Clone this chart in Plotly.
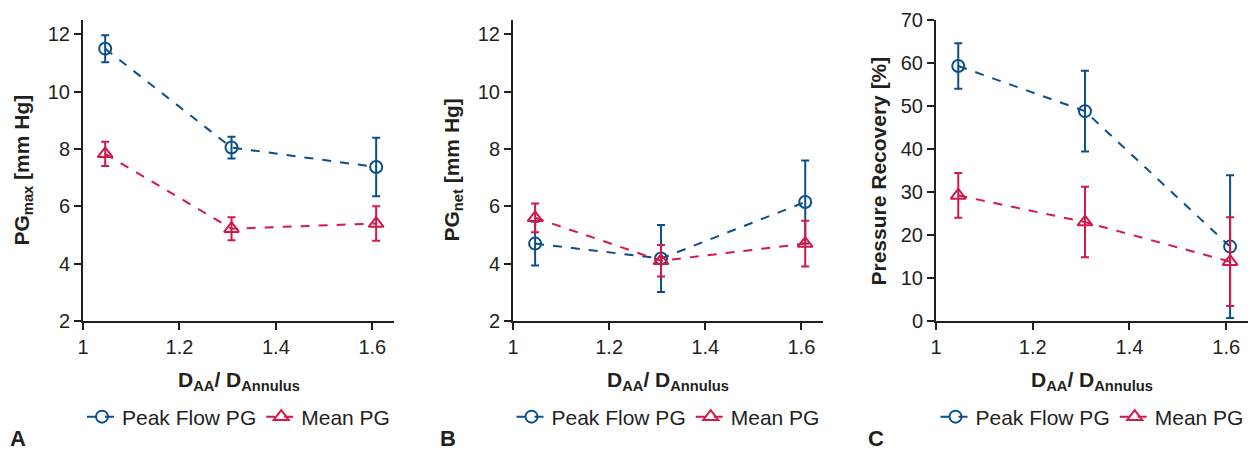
import plotly.graph_objects as go

x_vals = [1.046, 1.308, 1.608]

# Panel A: PGmax
a_peak = [11.5, 8.05, 7.37]
a_peak_err = [0.47, 0.38, 1.02]
a_mean = [7.83, 5.22, 5.4]
a_mean_err = [0.42, 0.4, 0.6]

# Panel B: PGnet
b_peak = [4.7, 4.18, 6.15]
b_peak_err = [0.76, 1.17, 1.45]
b_mean = [5.6, 4.1, 4.7]
b_mean_err = [0.5, 0.55, 0.8]

# Panel C: Pressure recovery
c_peak = [59.3, 48.8, 17.3]
c_peak_err = [5.3, 9.4, 16.6]
c_mean = [29.2, 23.0, 13.8]
c_mean_err = [5.2, 8.2, 10.3]

y_titles = ["<b>PG<sub>max</sub> [mm Hg]</b>", "<b>PG<sub>net</sub> [mm Hg]</b>", "<b>Pressure Recovery [%]</b>"]
panel_labels = ["A", "B", "C"]
x_tick_vals = [1, 1.2, 1.4, 1.6]
x_tick_text = ["1", "1.2", "1.4", "1.6"]

BLUE = "#0d4f8b"
RED = "#d3194a"
TXT = "#231f20"
W, H = 1259, 452
FONT = "Liberation Sans, Arial, Helvetica, sans-serif"

# panel pixel layout
xdom_px = [(83, 394), (513, 823), (936, 1248)]
ytop_px, ybot_px = 20, 321
ytitle_x_px = [22, 452, 878]
letter_x_px = [18, 448, 876]

fig = go.Figure()

data = [
    (a_peak, a_peak_err, a_mean, a_mean_err),
    (b_peak, b_peak_err, b_mean, b_mean_err),
    (c_peak, c_peak_err, c_mean, c_mean_err),
]
yranges = [[2, 12.5], [2, 12.5], [0, 70]]
ydticks = [[2, 4, 6, 8, 10, 12], [2, 4, 6, 8, 10, 12], [0, 10, 20, 30, 40, 50, 60, 70]]

annotations = []
for i, (pk, pke, mn, mne) in enumerate(data):
    n = "" if i == 0 else str(i + 1)
    xa, ya = "x" + n, "y" + n
    leg = "legend" if i == 0 else "legend" + str(i + 1)
    fig.add_trace(go.Scatter(
        x=x_vals, y=pk, xaxis=xa, yaxis=ya, mode="lines+markers", name="Peak Flow PG",
        line=dict(color=BLUE, width=2, dash="dash"),
        marker=dict(symbol="circle-open", size=12, color=BLUE, line=dict(width=2, color=BLUE)),
        error_y=dict(type="data", array=pke, color=BLUE, thickness=2, width=4),
        legend=leg, cliponaxis=False,
    ))
    fig.add_trace(go.Scatter(
        x=x_vals, y=mn, xaxis=xa, yaxis=ya, mode="lines+markers", name="Mean PG",
        line=dict(color=RED, width=2, dash="dash"),
        marker=dict(symbol="triangle-up-open", size=13, color=RED, line=dict(width=2, color=RED)),
        error_y=dict(type="data", array=mne, color=RED, thickness=2, width=4),
        legend=leg, cliponaxis=False,
    ))
    x0, x1 = xdom_px[i]
    dom = [x0 / W, x1 / W]
    axcommon = dict(showline=True, linecolor=TXT, linewidth=2, ticks="outside", ticklen=7,
                    tickwidth=1.5, tickcolor=TXT, showgrid=False, zeroline=False, automargin=False,
                    tickfont=dict(family=FONT, size=20, color=TXT))
    fig.update_layout(**{
        "xaxis" + n: dict(domain=dom, range=[1, 1.645], tickvals=x_tick_vals, ticktext=x_tick_text,
                          anchor=ya, **axcommon),
        "yaxis" + n: dict(domain=[1 - ybot_px / H, 1 - ytop_px / H], range=yranges[i],
                          tickvals=ydticks[i], anchor=xa, **axcommon),
        leg: dict(orientation="h", x=(x0 + x1) / 2 / W, xanchor="center", y=1 - 417 / H, yanchor="middle",
                  font=dict(family=FONT, size=21, color=TXT), bgcolor="rgba(0,0,0,0)",
                  itemwidth=30, tracegroupgap=0),
    })
    annotations.append(dict(text=y_titles[i], x=ytitle_x_px[i] / W, y=1 - ((ytop_px + ybot_px) / 2) / H,
                            xref="paper", yref="paper", textangle=-90, showarrow=False,
                            xanchor="center", yanchor="middle",
                            font=dict(family=FONT, size=21, color=TXT)))
    annotations.append(dict(text="<b>D<sub>AA</sub>/ D<sub>Annulus</sub></b>", x=(x0 + x1) / 2 / W,
                            y=1 - 381 / H, xref="paper", yref="paper", showarrow=False,
                            xanchor="center", yanchor="middle",
                            font=dict(family=FONT, size=21, color=TXT)))
    annotations.append(dict(text="<b>" + panel_labels[i] + "</b>", x=letter_x_px[i] / W, y=1 - 438 / H,
                            xref="paper", yref="paper", showarrow=False, xanchor="center", yanchor="middle",
                            font=dict(family=FONT, size=22, color=TXT)))

fig.update_layout(width=W, height=H, margin=dict(l=0, r=0, t=0, b=0, autoexpand=False),
                  plot_bgcolor="white", paper_bgcolor="white", annotations=annotations,
                  font=dict(family=FONT, color=TXT))
fig.write_html("out.html", config={"displayModeBar": False},
               post_script="document.body.style.margin='0';document.body.style.overflow='hidden';")
